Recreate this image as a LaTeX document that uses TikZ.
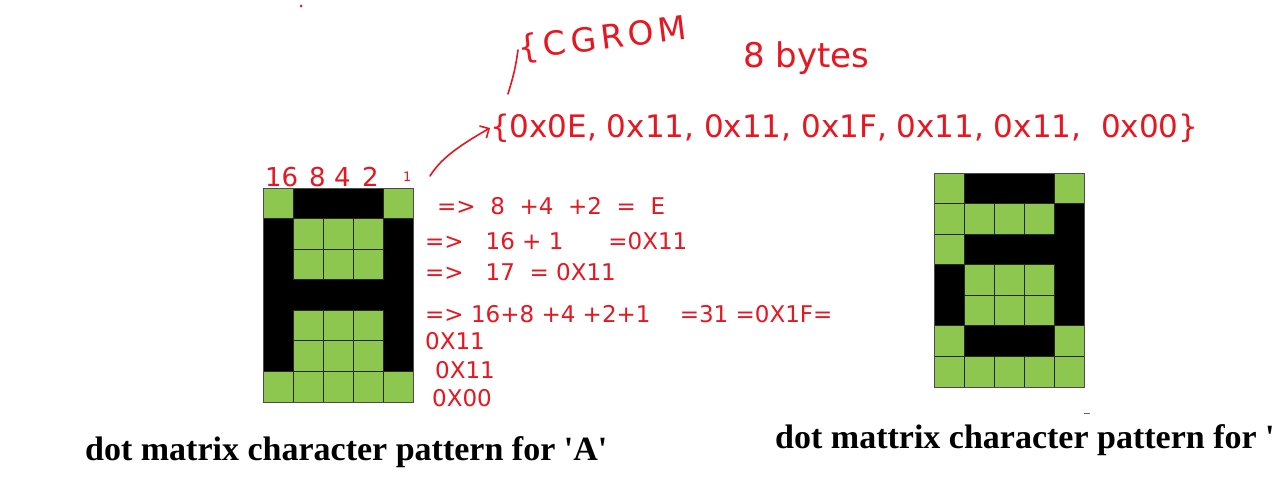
\documentclass[tikz,border=0pt]{standalone}
\usepackage{fontspec}
\setmainfont{Liberation Serif}
\newfontfamily\handfont{DejaVu Sans}
\newfontfamily\handspaced[LetterSpace=14]{DejaVu Sans}
\usetikzlibrary{arrows.meta}
\definecolor{cellgreen}{RGB}{141,199,79}
\definecolor{ink}{RGB}{232,22,32}
\tikzset{
  hand/.style={text=ink, font=\handfont\fontsize{23}{25}\selectfont, inner sep=0pt, anchor=west},
  handline/.style={draw=ink, line width=1.6pt, line cap=round, line join=round},
  caption/.style={font=\bfseries\fontsize{34}{36}\selectfont, inner sep=0pt, anchor=base west},
  oncell/.style={fill=black, draw=black, line width=0.6pt},
  offcell/.style={fill=cellgreen, draw=black!85, line width=0.9pt},
}
\newcommand{\dotgrid}[4]{% x0, y0, cell height, pattern
  \foreach \row [count=\r from 0] in {#4} {
    \foreach \v [count=\c from 0] in \row {
      \ifnum\v=1
        \path[oncell] ({#1+30*\c},{#2+#3*\r}) rectangle ++(30,#3);
      \fi
    }
  }
  \foreach \row [count=\r from 0] in {#4} {
    \foreach \v [count=\c from 0] in \row {
      \ifnum\v=0
        \path[offcell] ({#1+30*\c},{#2+#3*\r}) rectangle ++(30,#3);
      \fi
    }
  }
  \draw[black!70, line width=0.6pt] (#1,#2) rectangle ++(150,{7*#3});
}
\begin{document}
\begin{tikzpicture}[x=1pt,y=-1pt]
\useasboundingbox[fill=white] (0,0) rectangle (1273,490);
% grids
\dotgrid{263}{188}{30.57}{{0,1,1,1,0},{1,0,0,0,1},{1,0,0,0,1},{1,1,1,1,1},{1,0,0,0,1},{1,0,0,0,1},{0,0,0,0,0}}
\dotgrid{934}{173}{30.57}{{0,1,1,1,0},{0,0,0,0,1},{0,1,1,1,1},{1,0,0,0,1},{1,0,0,0,1},{0,1,1,1,0},{0,0,0,0,0}}
% captions
\node[caption] (capA) at (85,460) {dot matrix character pattern for \textquotesingle A\textquotesingle};
\node[caption] (capB) at (775,448) {dot mattrix character pattern for \textquotesingle};
\draw[black!60, line width=1pt] (1084,413) -- (1090,413);
% bit weights
\node[hand, font=\handfont\fontsize{26}{28}\selectfont] (w16) at (265,177) {16};
\node[hand, font=\handfont\fontsize{26}{28}\selectfont] (w8) at (309,177) {8};
\node[hand, font=\handfont\fontsize{26}{28}\selectfont] (w4) at (334,177) {4};
\node[hand, font=\handfont\fontsize{26}{28}\selectfont] (w2) at (362,177) {2};
\node[hand, font=\handfont\fontsize{13}{14}\selectfont] (w1) at (403,177) {1};
% row calculations
\node[hand] (r0) at (437,206) {=>\ \ 8 \ +4 \ +2 \ = \ E};
\node[hand] (r1) at (425,241) {=>\ \ \ 16 + 1 \quad\ \ =0X11};
\node[hand] (r2) at (425,272) {=>\ \ \ 17 \ = 0X11};
\node[hand] (r3) at (425,314) {=>\ 16+8 +4 +2+1 \ \ \ =31 =0X1F=};
\node[hand] (r4) at (425,341) {0X11};
\node[hand] (r5) at (435,370) {0X11};
\node[hand] (r6) at (432,398) {0X00};
% array
\node[hand, font=\handfont\fontsize{31}{33}\selectfont] (arr) at (490,128) {\{0x0E, 0x11, 0x11, 0x1F, 0x11, 0x11, \ 0x00\}};
\coordinate (arrtail) at (430,176);
\draw[handline, -{Straight Barb[length=7pt,width=14pt]}] (arrtail) .. controls (440,160) and (455,148) .. (arr.west);
% CGROM
\node[hand, font=\handspaced\fontsize{33}{36}\selectfont, rotate=7] (cg) at (518,50) {\{CGROM};
\coordinate (cgtail) at (508,94);
\draw[handline] (cgtail) .. controls (512,80) and (515,72) .. (cg.west);
\node[hand, font=\handfont\fontsize{34}{36}\selectfont] (bytes) at (743,58) {8 bytes};
% stray dot
\fill[ink] (301,6) circle (1.5);
\end{tikzpicture}
\end{document}
